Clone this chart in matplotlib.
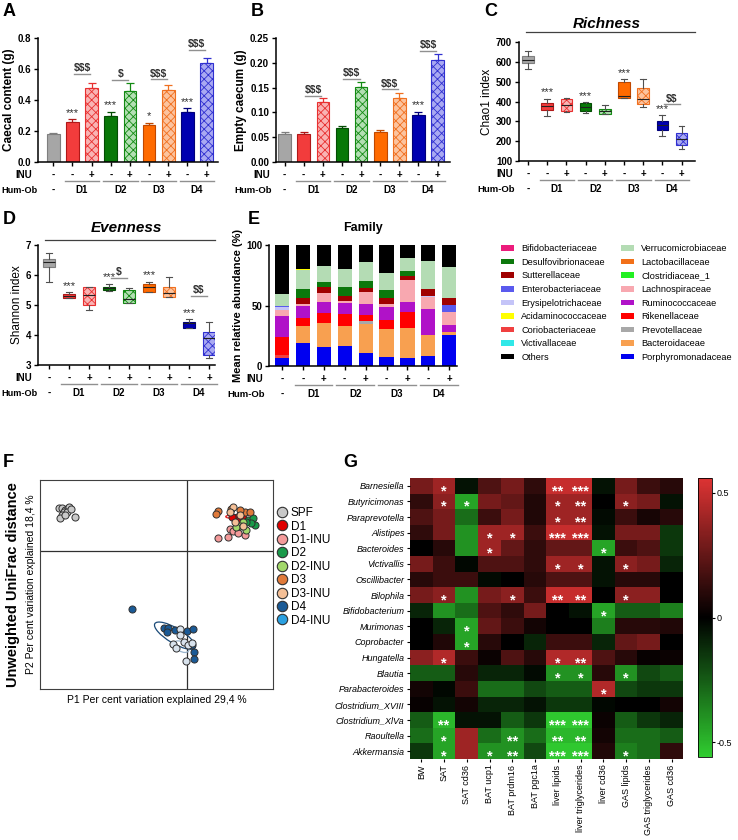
import matplotlib
matplotlib.use("Agg")
import matplotlib.pyplot as plt
from matplotlib.patches import Patch, Ellipse
from matplotlib.lines import Line2D
from matplotlib.colors import LinearSegmentedColormap
from matplotlib.transforms import ScaledTranslation

plt.rcParams['font.family'] = ['Liberation Sans', 'DejaVu Sans']
plt.rcParams['hatch.linewidth'] = 0.6
plt.rcParams['text.parse_math'] = False

# ---------------- data ----------------
x_pos = list(range(9))
inu_signs = ['-', '-', '+', '-', '+', '-', '+', '-', '+']
donors = ['D1', 'D2', 'D3', 'D4']

fill_cols = ['#a6a6a6', '#f23c3c', '#f9b3b3', '#087808', '#b3dfb3', '#ff6a00', '#fcc39e', '#0000b0', '#a9a9f2']
edge_cols = ['#7f7f7f', '#b01818', '#e83030', '#044d04', '#138a13', '#c04800', '#f07020', '#00007a', '#3030d0']
hatches = [None, None, 'xxxx', None, 'xxxx', None, 'xxxx', None, 'xxxx']

caecal_content = [0.180, 0.260, 0.475, 0.300, 0.455, 0.237, 0.463, 0.323, 0.636]
caecal_content_err = [0.005, 0.015, 0.033, 0.022, 0.055, 0.015, 0.037, 0.024, 0.032]
empty_caecum = [0.0565, 0.056, 0.120, 0.0685, 0.151, 0.0605, 0.130, 0.094, 0.206]
empty_caecum_err = [0.003, 0.004, 0.009, 0.005, 0.010, 0.004, 0.010, 0.007, 0.012]

chao1_whislo = [564, 326, 348, 343, 335, 419, 373, 226, 162]
chao1_q1 = [594, 355, 352, 352, 338, 419, 385, 254, 181]
chao1_med = [611, 377, 380, 373, 352, 430, 415, 281, 213]
chao1_q3 = [631, 393, 414, 393, 363, 499, 469, 300, 239]
chao1_whishi = [653, 414, 417, 398, 380, 511, 511, 330, 276]

shannon_whislo = [5.78, 5.24, 4.83, 5.48, 5.06, 5.42, 5.26, 4.22, 3.22]
shannon_q1 = [6.26, 5.25, 5.00, 5.50, 5.06, 5.44, 5.26, 4.24, 3.33]
shannon_med = [6.44, 5.31, 5.33, 5.56, 5.19, 5.59, 5.39, 4.39, 3.89]
shannon_q3 = [6.52, 5.36, 5.59, 5.61, 5.50, 5.69, 5.59, 4.44, 4.09]
shannon_whishi = [6.72, 5.42, 5.59, 5.71, 5.56, 5.78, 5.92, 4.52, 4.42]

# stacking order (bottom -> top)
families = ['Porphyromonadaceae', 'Coriobacteriaceae', 'Bacteroidaceae', 'Prevotellaceae',
            'Rikenellaceae', 'Ruminococcaceae', 'Lachnospiraceae', 'Erysipelotrichaceae',
            'Enterobacteriaceae', 'Sutterellaceae', 'Desulfovibrionaceae', 'Verrucomicrobiaceae',
            'Acidaminococcaceae', 'Others']
abundance = [
    [7.0, 18.7, 16.0, 16.2, 10.7, 7.1, 6.3, 8.2, 25.5],
    [2.0, 0, 0, 0, 0, 0, 0, 0, 0],
    [0, 14.3, 19.7, 16.8, 24.2, 23.7, 24.7, 17.8, 2.8],
    [0, 0, 0, 0, 2.7, 0, 0, 0, 0],
    [14.6, 6.8, 7.7, 9.6, 4.4, 7.1, 13.8, 0, 0],
    [17.9, 10.2, 9.6, 9.6, 9.6, 11.0, 8.5, 21.3, 5.5],
    [4.5, 1.6, 7.0, 1.6, 9.7, 2.1, 17.9, 9.7, 11.0],
    [2.5, 0, 0, 0, 0, 0, 0, 1.0, 0],
    [1.2, 0, 0, 0, 0, 0, 0, 0, 5.5],
    [0, 5.0, 5.7, 4.4, 3.5, 5.0, 3.3, 5.5, 5.7],
    [0, 7.1, 3.8, 6.8, 5.2, 6.4, 4.3, 0, 0],
    [9.6, 15.7, 13.5, 15.2, 15.7, 14.2, 10.2, 23.3, 26.0],
    [0, 0.8, 0, 0, 0, 0.6, 0.5, 0, 0],
    [40.7, 19.8, 17.0, 19.8, 14.3, 22.8, 10.5, 13.2, 18.0],
]
legend_families = ['Bifidobacteriaceae', 'Desulfovibrionaceae', 'Sutterellaceae', 'Enterobacteriaceae',
                   'Erysipelotrichaceae', 'Acidaminococcaceae', 'Coriobacteriaceae', 'Victivallaceae', 'Others',
                   'Verrucomicrobiaceae', 'Lactobacillaceae', 'Clostridiaceae_1', 'Lachnospiraceae',
                   'Ruminococcaceae', 'Rikenellaceae', 'Prevotellaceae', 'Bacteroidaceae', 'Porphyromonadaceae']
family_colors = {
    'Bifidobacteriaceae': '#ec1c7c', 'Desulfovibrionaceae': '#0c780c', 'Sutterellaceae': '#a00000',
    'Enterobacteriaceae': '#5a5aee', 'Erysipelotrichaceae': '#c4c4f8', 'Acidaminococcaceae': '#ffff00',
    'Coriobacteriaceae': '#f04040', 'Victivallaceae': '#30e8e8', 'Others': '#000000',
    'Verrucomicrobiaceae': '#b4dcb4', 'Lactobacillaceae': '#f27018', 'Clostridiaceae_1': '#22f022',
    'Lachnospiraceae': '#f8a8b0', 'Ruminococcaceae': '#b012c8', 'Rikenellaceae': '#ff0000',
    'Prevotellaceae': '#a8a8a8', 'Bacteroidaceae': '#f8a050', 'Porphyromonadaceae': '#0000f0',
}

# PCoA (unweighted UniFrac)
pcoa_groups = ['SPF', 'D1', 'D1-INU', 'D2', 'D2-INU', 'D3', 'D3-INU', 'D4', 'D4-INU']
pcoa_legend_colors = ['#c8c8c8', '#e00000', '#f49a9a', '#1a9a4a', '#a2d86a', '#e07a3a', '#f4bf96', '#1a5a96', '#2aa0e0']
pcoa_point_colors = ['#c8c8c8', '#e00000', '#f49a9a', '#1a9a4a', '#a2d86a', '#e07a3a', '#f4bf96', '#1a5a96', '#d8e2ec']
pcoa_p1 = [
    [-0.385, -0.376, -0.367, -0.360, -0.355, -0.372, -0.363, -0.378, -0.382, -0.368, -0.351, -0.339],
    [0.142, 0.149, 0.155, 0.135, 0.167],
    [0.127, 0.137, 0.152, 0.122, 0.092, 0.172],
    [0.182, 0.197, 0.202, 0.192, 0.175],
    [0.167, 0.159, 0.175, 0.147],
    [0.092, 0.085, 0.132, 0.172, 0.189, 0.157],
    [0.137, 0.127, 0.157, 0.142, 0.167],
    [-0.168, -0.071, -0.058, -0.061, -0.036, -0.001, 0.017, 0.019, 0.021, 0.015],
    [-0.023, -0.021, -0.043, -0.033, -0.011, 0.002, 0.013, -0.005],
]
pcoa_p2 = [
    [0.128, 0.130, 0.123, 0.130, 0.133, 0.116, 0.118, 0.108, 0.098, 0.108, 0.125, 0.101],
    [0.098, 0.103, 0.093, 0.101, 0.098],
    [0.065, 0.061, 0.055, 0.043, 0.038, 0.048],
    [0.093, 0.098, 0.078, 0.085, 0.088],
    [0.088, 0.075, 0.063, 0.073],
    [0.120, 0.110, 0.125, 0.118, 0.117, 0.123],
    [0.131, 0.118, 0.108, 0.088, 0.075],
    [-0.174, -0.230, -0.232, -0.242, -0.237, -0.240, -0.233, -0.302, -0.325, -0.282],
    [-0.233, -0.252, -0.280, -0.292, -0.272, -0.282, -0.277, -0.330],
]

# correlation heatmap
genera = ['Barnesiella', 'Butyricimonas', 'Paraprevotella', 'Alistipes', 'Bacteroides', 'Victivallis',
          'Oscillibacter', 'Bilophila', 'Bifidobacterium', 'Murimonas', 'Coprobacter', 'Hungatella',
          'Blautia', 'Parabacteroides', 'Clostridium_XVIII', 'Clostridium_XlVa', 'Raoultella', 'Akkermansia']
traits = ['BW', 'SAT', 'SAT cd36', 'BAT ucp1', 'BAT prdm16', 'BAT pgc1a', 'liver lipids',
          'liver triglycerides', 'liver cd36', 'GAS lipids', 'GAS triglycerides', 'GAS cd36']
corr = [
    [0.30, 0.40, -0.05, 0.20, 0.30, 0.12, 0.50, 0.50, -0.05, 0.30, 0.15, 0.10],
    [0.12, 0.35, -0.45, 0.30, 0.25, 0.08, 0.40, 0.40, 0.00, 0.35, 0.30, -0.05],
    [0.20, 0.30, -0.30, 0.15, 0.30, 0.08, 0.40, 0.40, -0.03, 0.15, 0.06, 0.10],
    [0.12, 0.30, -0.40, 0.40, 0.40, 0.15, 0.50, 0.50, -0.05, 0.30, 0.30, -0.15],
    [0.00, 0.10, -0.40, 0.40, 0.25, 0.12, 0.25, 0.25, -0.45, 0.15, 0.20, -0.15],
    [0.30, 0.15, -0.02, 0.20, 0.20, 0.12, 0.40, 0.40, -0.05, 0.35, 0.30, -0.10],
    [0.10, 0.15, 0.15, -0.03, 0.00, 0.10, 0.20, 0.20, -0.05, 0.10, 0.10, 0.00],
    [0.30, 0.35, -0.40, 0.30, 0.35, 0.15, 0.50, 0.50, 0.00, 0.35, 0.35, 0.00],
    [-0.10, -0.40, -0.30, 0.20, 0.12, 0.30, 0.00, -0.05, -0.45, -0.25, -0.25, -0.35],
    [0.00, -0.10, -0.45, 0.25, 0.15, 0.05, 0.00, 0.00, -0.35, 0.10, 0.10, 0.08],
    [0.00, 0.08, -0.45, 0.10, 0.00, -0.10, 0.15, 0.15, -0.10, 0.25, 0.30, 0.00],
    [0.35, 0.45, 0.15, 0.03, 0.20, 0.10, 0.45, 0.45, 0.20, 0.10, 0.02, 0.03],
    [-0.25, -0.25, 0.10, -0.10, -0.10, -0.03, -0.40, -0.40, 0.10, -0.40, -0.20, -0.25],
    [0.05, -0.02, 0.15, -0.30, -0.30, -0.20, -0.25, -0.25, 0.45, -0.20, -0.15, -0.15],
    [0.02, -0.05, 0.05, -0.10, -0.10, -0.05, -0.15, -0.15, -0.02, 0.00, 0.00, 0.05],
    [-0.25, -0.50, -0.05, -0.05, -0.25, -0.15, -0.55, -0.55, 0.03, -0.25, -0.15, -0.10],
    [-0.30, -0.45, 0.40, -0.30, -0.40, -0.30, -0.50, -0.50, 0.05, -0.30, -0.30, -0.25],
    [-0.15, -0.45, 0.40, -0.40, -0.40, -0.20, -0.55, -0.55, 0.08, -0.35, -0.30, 0.12],
]
sig_cells = [
    ('Barnesiella', 'SAT', '*'), ('Barnesiella', 'liver lipids', '**'), ('Barnesiella', 'liver triglycerides', '***'),
    ('Butyricimonas', 'SAT', '*'), ('Butyricimonas', 'SAT cd36', '*'), ('Butyricimonas', 'liver lipids', '*'),
    ('Butyricimonas', 'liver triglycerides', '**'), ('Butyricimonas', 'GAS lipids', '*'),
    ('Paraprevotella', 'liver lipids', '*'), ('Paraprevotella', 'liver triglycerides', '**'),
    ('Alistipes', 'BAT ucp1', '*'), ('Alistipes', 'BAT prdm16', '*'), ('Alistipes', 'liver lipids', '***'),
    ('Alistipes', 'liver triglycerides', '***'),
    ('Bacteroides', 'BAT ucp1', '*'), ('Bacteroides', 'liver cd36', '*'),
    ('Victivallis', 'liver lipids', '*'), ('Victivallis', 'liver triglycerides', '*'), ('Victivallis', 'GAS lipids', '*'),
    ('Bilophila', 'SAT', '*'), ('Bilophila', 'BAT prdm16', '*'), ('Bilophila', 'liver lipids', '**'),
    ('Bilophila', 'liver triglycerides', '**'), ('Bilophila', 'GAS lipids', '*'),
    ('Bifidobacterium', 'liver cd36', '*'), ('Murimonas', 'SAT cd36', '*'), ('Coprobacter', 'SAT cd36', '*'),
    ('Hungatella', 'SAT', '*'), ('Hungatella', 'liver lipids', '*'), ('Hungatella', 'liver triglycerides', '**'),
    ('Blautia', 'liver lipids', '*'), ('Blautia', 'liver triglycerides', '*'), ('Blautia', 'GAS lipids', '*'),
    ('Parabacteroides', 'liver cd36', '*'),
    ('Clostridium_XlVa', 'SAT', '**'), ('Clostridium_XlVa', 'liver lipids', '***'),
    ('Clostridium_XlVa', 'liver triglycerides', '***'),
    ('Raoultella', 'SAT', '*'), ('Raoultella', 'BAT prdm16', '**'), ('Raoultella', 'liver lipids', '**'),
    ('Raoultella', 'liver triglycerides', '**'),
    ('Akkermansia', 'SAT', '*'), ('Akkermansia', 'BAT ucp1', '*'), ('Akkermansia', 'BAT prdm16', '**'),
    ('Akkermansia', 'liver lipids', '***'), ('Akkermansia', 'liver triglycerides', '***'),
    ('Akkermansia', 'GAS lipids', '*'),
]

# ---------------- figure ----------------
W, H = 738, 840
fig = plt.figure(figsize=(W / 100, H / 100), dpi=100)


def add_ax(l, t, r, b):
    return fig.add_axes([l / W, 1 - b / H, (r - l) / W, (b - t) / H])


def style_ax(ax):
    for s in ['top', 'right']:
        ax.spines[s].set_visible(False)
    for s in ['left', 'bottom']:
        ax.spines[s].set_linewidth(1.1)
    ax.tick_params(axis='y', labelsize=7, length=3, width=1, pad=2)
    ax.tick_params(axis='x', labelbottom=False, length=3, width=1)
    ax.set_xticks(x_pos)
    for lab in ax.get_yticklabels():
        lab.set_fontweight('bold')


def group_rows(ax, hum_left=False):
    tr = ax.get_xaxis_transform()
    for x, s in zip(x_pos, inu_signs):
        ax.annotate(s, (x, 0), xycoords=tr, xytext=(0, -9.5), textcoords='offset points',
                    ha='center', va='center', fontsize=7, fontweight='bold', annotation_clip=False)
    ax.annotate('-', (x_pos[0], 0), xycoords=tr, xytext=(0, -20), textcoords='offset points',
                ha='center', va='center', fontsize=7, fontweight='bold', annotation_clip=False)
    off = ScaledTranslation(0, -13.7 / 72, fig.dpi_scale_trans)
    for k, d in enumerate(donors):
        a, b = x_pos[1 + 2 * k], x_pos[2 + 2 * k]
        ax.plot([a - 0.4, b + 0.4], [0, 0], transform=tr + off, color='#909090', lw=1, clip_on=False)
        ax.annotate(d, ((a + b) / 2, 0), xycoords=tr, xytext=(0, -20.5), textcoords='offset points',
                    ha='center', va='center', fontsize=7, fontweight='bold', annotation_clip=False)
    ax.annotate('INU', (0, 0), xycoords='axes fraction', xytext=(-4, -9.5), textcoords='offset points',
                ha='right', va='center', fontsize=7, fontweight='bold', annotation_clip=False)
    if hum_left:
        # near the figure's left edge: anchor on the left so the label stays inside
        ax.annotate('Hum-Ob', (1.5 / W, 0), xycoords=('figure fraction', 'axes fraction'),
                    xytext=(0, -20.5), textcoords='offset points', ha='left', va='center',
                    fontsize=6.6, fontweight='bold', annotation_clip=False)
    else:
        ax.annotate('Hum-Ob', (0, 0), xycoords='axes fraction', xytext=(-3, -20.5),
                    textcoords='offset points', ha='right', va='center', fontsize=6.8,
                    fontweight='bold', annotation_clip=False)


def pair_sig(ax, xc, y, txt, dy):
    ax.plot([xc - 0.42, xc + 0.42], [y, y], color='#909090', lw=1, clip_on=False)
    ax.text(xc, y + dy, txt, ha='center', va='bottom', fontsize=7.5, fontweight='bold', color='#303030')


def bar_panel(ax, vals, errs, ylabel, ylim, yticks, stars, pairs, dy, hum_left=False):
    for i in x_pos:
        ax.bar(x_pos[i], vals[i], 0.66, color=fill_cols[i], edgecolor=edge_cols[i],
               hatch=hatches[i], lw=0.8, zorder=2)
        ax.errorbar(x_pos[i], vals[i], yerr=[[0], [errs[i]]], color=edge_cols[i],
                    capsize=2.8, lw=0.9, capthick=0.9, zorder=1)
    for i, s in stars:
        ax.text(x_pos[i], vals[i] + errs[i] + dy, s, ha='center', va='bottom', fontsize=8,
                color='#303030')
    for xc, y, s in pairs:
        pair_sig(ax, xc, y, s, dy * 0.3)
    ax.set_ylim(*ylim)
    ax.set_yticks(yticks)
    style_ax(ax)
    ax.set_ylabel(ylabel, fontsize=8.5, fontweight='bold', labelpad=2)
    group_rows(ax, hum_left)


def box_panel(ax, lo, q1, med, q3, hi, ylabel, ylim, yticks, xlim, stars, pairs, dy, hum_left=False):
    stats = [dict(whislo=lo[i], q1=q1[i], med=med[i], q3=q3[i], whishi=hi[i]) for i in x_pos]
    bp = ax.bxp(stats, positions=x_pos, widths=0.6, showfliers=False, patch_artist=True,
                medianprops=dict(color='#202020', lw=0.8),
                whiskerprops=dict(color='#505050', lw=0.8), capprops=dict(color='#505050', lw=0.8))
    for i, b in enumerate(bp['boxes']):
        b.set_facecolor(fill_cols[i])
        b.set_edgecolor(edge_cols[i])
        b.set_linewidth(0.8)
        if hatches[i]:
            b.set_hatch(hatches[i])
    for i, s in stars:
        ax.text(x_pos[i], hi[i] + dy, s, ha='center', va='bottom', fontsize=8, color='#303030')
    for xc, y, s in pairs:
        pair_sig(ax, xc, y, s, dy * 0.6)
    ax.set_xlim(*xlim)
    ax.set_ylim(*ylim)
    ax.set_yticks(yticks)
    style_ax(ax)
    ax.set_xticks(x_pos)
    ax.set_ylabel(ylabel, fontsize=8.5, labelpad=2)
    group_rows(ax, hum_left)


# A
axA = add_ax(38, 38, 218, 162)
bar_panel(axA, caecal_content, caecal_content_err, 'Caecal content (g)', (0, 0.8),
          [0, 0.2, 0.4, 0.6, 0.8], [(1, '***'), (3, '***'), (5, '*'), (7, '***')],
          [(1.5, 0.57, '$$$'), (3.5, 0.53, '$'), (5.5, 0.535, '$$$'), (7.5, 0.725, '$$$')], 0.01,
          hum_left=True)
axA.set_xlim(-0.8, 8.6)
axA.yaxis.set_major_formatter(plt.FormatStrFormatter('%.1f'))

# B
axB = add_ax(276, 38, 450, 162)
bar_panel(axB, empty_caecum, empty_caecum_err, 'Empty caecum (g)', (0, 0.25),
          [0, 0.05, 0.10, 0.15, 0.20, 0.25], [(7, '***')],
          [(1.5, 0.134, '$$$'), (3.5, 0.168, '$$$'), (5.5, 0.147, '$$$'), (7.5, 0.224, '$$$')], 0.003)
axB.set_xlim(-0.45, 8.65)
axB.yaxis.set_major_formatter(plt.FormatStrFormatter('%.2f'))

# C
axC = add_ax(519, 42, 695, 161)
box_panel(axC, chao1_whislo, chao1_q1, chao1_med, chao1_q3, chao1_whishi, 'Chao1 index',
          (100, 700), range(100, 701, 100), (-0.47, 8.7),
          [(1, '***'), (3, '***'), (5, '***'), (7, '***')], [(7.5, 385, '$$')], 6)
axC.plot([0.04, 1.0], [1.084, 1.084], transform=axC.transAxes, color='#404040', lw=0.9, clip_on=False)
axC.text(0.5, 1.15, 'Richness', transform=axC.transAxes, ha='center', va='center',
         fontsize=11, fontweight='bold', style='italic')

# D
axD = add_ax(38, 245, 215, 365)
box_panel(axD, shannon_whislo, shannon_q1, shannon_med, shannon_q3, shannon_whishi, 'Shannon index',
          (3, 7), range(3, 8), (-0.55, 8.3),
          [(1, '***'), (3, '***'), (5, '***'), (7, '***')], [(3.5, 5.9, '$'), (7.5, 5.3, '$$')], 0.04,
          hum_left=True)
axD.plot([0.04, 1.0], [1.045, 1.045], transform=axD.transAxes, color='#404040', lw=0.9, clip_on=False)
axD.text(0.5, 1.14, 'Evenness', transform=axD.transAxes, ha='center', va='center',
         fontsize=11, fontweight='bold', style='italic')

# E
axE = add_ax(269, 245, 457, 366)
bottom = [0.0] * 9
for fam, row in zip(families, abundance):
    axE.bar(x_pos, row, 0.68, bottom=bottom, color=family_colors[fam], lw=0)
    bottom = [b + v for b, v in zip(bottom, row)]
axE.set_xlim(-0.62, 8.37)
axE.set_ylim(0, 100)
axE.set_yticks([0, 50, 100])
style_ax(axE)
axE.set_ylabel('Mean relative abundance (%)', fontsize=8, fontweight='bold', labelpad=2)
axE.set_title('Family', fontsize=9, fontweight='bold', pad=10)
group_rows(axE)

handles = [Patch(facecolor=family_colors[f], edgecolor='none') for f in legend_families]
fig.legend(handles, legend_families, ncol=2, loc='upper left', bbox_to_anchor=(493 / W, 1 - 236 / H),
           frameon=False, fontsize=6.6, handlelength=1.4, handleheight=0.55, columnspacing=1.4,
           labelspacing=0.5, handletextpad=0.8)

# F
axF = add_ax(40, 480, 273, 689)
axF.axhline(0, color='#303030', lw=0.9, zorder=0)
axF.axvline(0, color='#303030', lw=0.9, zorder=0)
axF.add_patch(Ellipse((-0.038, -0.254), 0.14, 0.045, angle=-31, fill=False, ec='#1a4a78', lw=0.9))
axF.add_patch(Ellipse((-0.018, -0.287), 0.05, 0.028, angle=-30, fill=False, ec='#9ab4cc', lw=0.9))
axF.add_patch(Ellipse((0.135, 0.103), 0.04, 0.01, angle=0, fill=False, ec='#e02020', lw=0.9))
for g, col, p1, p2 in zip(pcoa_groups, pcoa_point_colors, pcoa_p1, pcoa_p2):
    axF.scatter(p1, p2, s=26, c=col, edgecolors='#303030', linewidths=0.7, zorder=3)
axF.set_xlim(-0.443, 0.257)
axF.set_ylim(-0.414, 0.213)
axF.set_xticks([])
axF.set_yticks([])
for s in axF.spines.values():
    s.set_linewidth(0.8)
    s.set_color('#404040')
axF.set_xlabel('P1 Per cent variation explained 29,4 %', fontsize=7.5, labelpad=4)
axF.set_ylabel('P2 Per cent variation explained 18,4 %', fontsize=7.5, labelpad=3)
fig.text(13 / W, 1 - 585 / H, 'Unweighted UniFrac distance', rotation=90, ha='center', va='center',
         fontsize=10.5, fontweight='bold')
f_handles = [Line2D([], [], marker='o', ls='none', markersize=7.5, markerfacecolor=c,
                    markeredgecolor='#303030', markeredgewidth=0.8) for c in pcoa_legend_colors]
axF.legend(f_handles, pcoa_groups, loc='upper left', bbox_to_anchor=(1.01, 0.87), frameon=False,
           fontsize=8.5, labelspacing=0.12, handletextpad=0.1, borderaxespad=0, borderpad=0,
           handlelength=1.2)

# G
green_black_red = LinearSegmentedColormap.from_list('gbr', ['#30cc30', '#000000', '#dd3333'])
axG = add_ax(410, 478, 683, 759)
im = axG.imshow(corr, cmap=green_black_red, vmin=-0.56, vmax=0.56, aspect='auto',
                interpolation='nearest')
axG.set_yticks(range(len(genera)))
axG.set_yticklabels(genera, fontsize=6.5, style='italic')
axG.set_xticks(range(len(traits)))
axG.set_xticklabels(traits, fontsize=6.5, rotation=90)
axG.tick_params(length=2.5, width=0.8, pad=1.5)
for s in axG.spines.values():
    s.set_visible(False)
for g, t, s in sig_cells:
    axG.text(traits.index(t), genera.index(g) + 0.35, s, ha='center', va='center', color='white',
             fontsize=10.5, fontweight='bold')

cax = add_ax(698, 478, 712, 757)
cb = fig.colorbar(im, cax=cax, ticks=[-0.5, 0, 0.5])
cb.ax.set_yticklabels(['-0.5', '0', '0.5'], fontsize=6.5)
cb.ax.tick_params(length=2, width=0.8, pad=1.5)
cb.outline.set_linewidth(0.6)

# panel letters
for letter, px, py in [('A', 3, 12), ('B', 251, 12), ('C', 484, 12), ('D', 3, 220),
                       ('E', 248, 219), ('F', 3, 462), ('G', 343, 462)]:
    fig.text(px / W, 1 - py / H, letter, fontsize=13, fontweight='bold', va='center', ha='left')

fig.savefig('out.png', dpi=100)
